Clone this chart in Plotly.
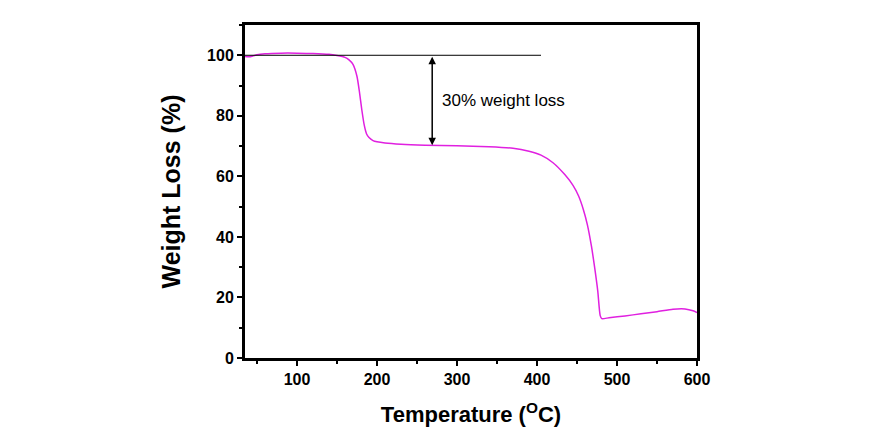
import plotly.graph_objects as go

temperature = [35, 40, 45, 50, 60, 80, 100, 120, 140, 150, 160, 165, 170, 175, 178, 181, 184, 187,
               190, 195, 200, 210, 230, 260, 300, 340, 370, 390, 405, 420, 435, 445, 452, 458,
               463, 468, 472, 476, 479, 481, 490, 510, 530, 550, 570, 585, 595, 600]
weight = [99.6, 99.5, 99.8, 100.2, 100.5, 100.7, 100.7, 100.6, 100.3, 99.9, 99.3, 98.5, 97, 93,
          88, 82, 77, 74, 72.8, 71.8, 71.4, 71, 70.6, 70.3, 70.1, 69.8, 69.3, 68.3, 67, 64.5,
          60.5, 57, 53.5, 49, 44, 37, 30, 22, 14, 13, 13.3, 13.9, 14.6, 15.3, 16.1, 16.2, 15.6, 15]

x_ticks = [100, 200, 300, 400, 500, 600]
y_ticks = [0, 20, 40, 60, 80, 100]
ref_level = 100
ref_line_end = 405
arrow_x = 269
arrow_bottom = 70.3
label_text = "30% weight loss"
label_pos = (279, 85)

FONT = "Liberation Sans, Arial, sans-serif"

fig = go.Figure()
fig.add_trace(go.Scatter(x=temperature, y=weight, mode="lines",
                         line=dict(color="#e020e0", width=1.5, shape="spline", smoothing=0.6),
                         showlegend=False, hoverinfo="skip"))

fig.add_shape(type="line", x0=35, x1=ref_line_end, y0=ref_level, y1=ref_level,
              xref="x", yref="y", line=dict(color="black", width=1))

fig.add_annotation(x=arrow_x, y=arrow_bottom, ax=arrow_x, ay=ref_level,
                   xref="x", yref="y", axref="x", ayref="y", text="",
                   showarrow=True, arrowhead=2, startarrowhead=2, arrowside="end+start",
                   arrowsize=1, arrowwidth=1.5, arrowcolor="black", standoff=0, startstandoff=0)

fig.add_annotation(x=label_pos[0], y=label_pos[1], xref="x", yref="y", text=label_text,
                   showarrow=False, xanchor="left", yanchor="middle",
                   font=dict(family=FONT, size=17, color="black"))

axis_common = dict(showline=True, linewidth=3, linecolor="black", mirror=True,
                   ticks="outside", ticklen=5, tickwidth=2, tickcolor="black",
                   showgrid=False, zeroline=False,
                   tickfont=dict(family=FONT, size=16, color="black", weight="bold"))

fig.update_xaxes(range=[35, 600], tickvals=x_ticks, ticktext=[str(v) for v in x_ticks],
                 minor=dict(ticks="outside", ticklen=3, tickwidth=2, tickcolor="black", dtick=50, tick0=0),
                 title=dict(text="Temperature (<sup>O</sup>C)", standoff=20,
                            font=dict(family=FONT, size=22, color="black", weight="bold")),
                 **axis_common)
fig.update_yaxes(range=[0, 110], tickvals=y_ticks, ticktext=[str(v) for v in y_ticks],
                 minor=dict(ticks="outside", ticklen=3, tickwidth=2, tickcolor="black", dtick=10, tick0=0),
                 title=dict(text="Weight Loss (%)", standoff=20,
                            font=dict(family=FONT, size=25, color="black", weight="bold")),
                 **axis_common)

fig.update_layout(width=885, height=442, margin=dict(l=245, r=188, t=25, b=84),
                  plot_bgcolor="white", paper_bgcolor="white")

fig.write_html("out.html")
